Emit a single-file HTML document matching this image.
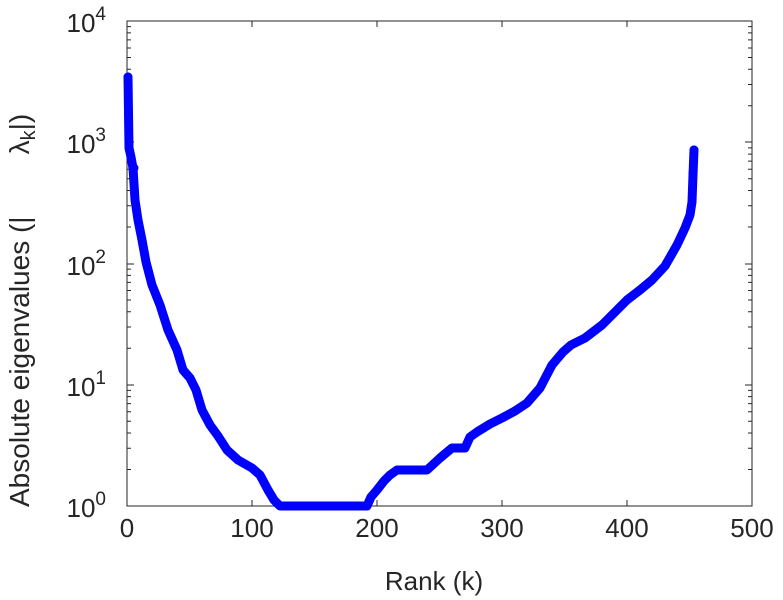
<!DOCTYPE html>
<html><head><style>body{margin:0;background:#fff}svg{display:block}text{font-family:"Liberation Sans",sans-serif;fill:#262626}</style></head><body>
<svg width="783" height="600" viewBox="0 0 783 600">
<g stroke="#262626" stroke-width="1" fill="none">
<rect x="127" y="21" width="625" height="485"/>
<path d="M252,506v-6M377,506v-6M502,506v-6M627,506v-6M252,21v6M377,21v6M502,21v6M627,21v6"/>
<path d="M127,21h7M127,142h7M127,264h7M127,385h7M752,21h-7M752,142h-7M752,264h-7M752,385h-7"/>
<path id="mt" d="M127,469.5h4M127,448.2h4M127,433h4M127,421.3h4M127,411.7h4M127,403.6h4M127,396.6h4M127,390.4h4M752,469.5h-4M752,448.2h-4M752,433h-4M752,421.3h-4M752,411.7h-4M752,403.6h-4M752,396.6h-4M752,390.4h-4"/>
<use href="#mt" transform="translate(0,-121.25)"/>
<use href="#mt" transform="translate(0,-242.5)"/>
<use href="#mt" transform="translate(0,-363.75)"/>
</g>
<polyline fill="none" stroke="#0000ff" stroke-width="9" stroke-linejoin="round" stroke-linecap="round" points="128,77 129,148 131,157 133,168 135,200 138,220 142,240 146,262 152,285 160,305 168,330 177,350 183,370 190,378 196,390 202,410 210,425 218,436 227,450 238,460 252,468 260,475 268,490 274,500 280,506 367,506 371,497 377,490 384,481 390,475 397,470 427,470 440,458 452,448 465,448 470,437 477,432 490,424 502,418 515,411 527,403 540,388 552,365 563,352 571,345 585,338 602,325 615,312 627,300 640,290 652,280 665,266 677,245 685,228 690,215 692,202 693,175 694,150"/>
<g fill="#0000ff"><circle cx="128" cy="77" r="4.5"/><circle cx="694" cy="150" r="4.5"/><circle cx="693" cy="173" r="4.5"/><circle cx="692" cy="202" r="4.5"/><circle cx="129" cy="148" r="4.5"/><circle cx="131" cy="158" r="4.5"/><circle cx="134" cy="168" r="4.5"/></g>
<g font-size="26" text-anchor="middle">
<text x="127" y="537">0</text><text x="252" y="537">100</text><text x="377" y="537">200</text><text x="502" y="537">300</text><text x="627" y="537">400</text><text x="752" y="537">500</text>
<text x="434" y="590">Rank (k)</text>
</g>
<g font-size="26" text-anchor="end">
<text x="106" y="517">10<tspan font-size="19" dy="-12">0</tspan></text>
<text x="106" y="396">10<tspan font-size="19" dy="-12">1</tspan></text>
<text x="106" y="275">10<tspan font-size="19" dy="-12">2</tspan></text>
<text x="106" y="153">10<tspan font-size="19" dy="-12">3</tspan></text>
<text x="106" y="32">10<tspan font-size="19" dy="-12">4</tspan></text>
</g>
<text font-size="28" transform="translate(29,507) rotate(-90)">Absolute eigenvalues (|<tspan dx="62">λ</tspan><tspan font-size="20" dy="6">k</tspan><tspan dy="-6">|)</tspan></text>
</svg>
</body></html>
